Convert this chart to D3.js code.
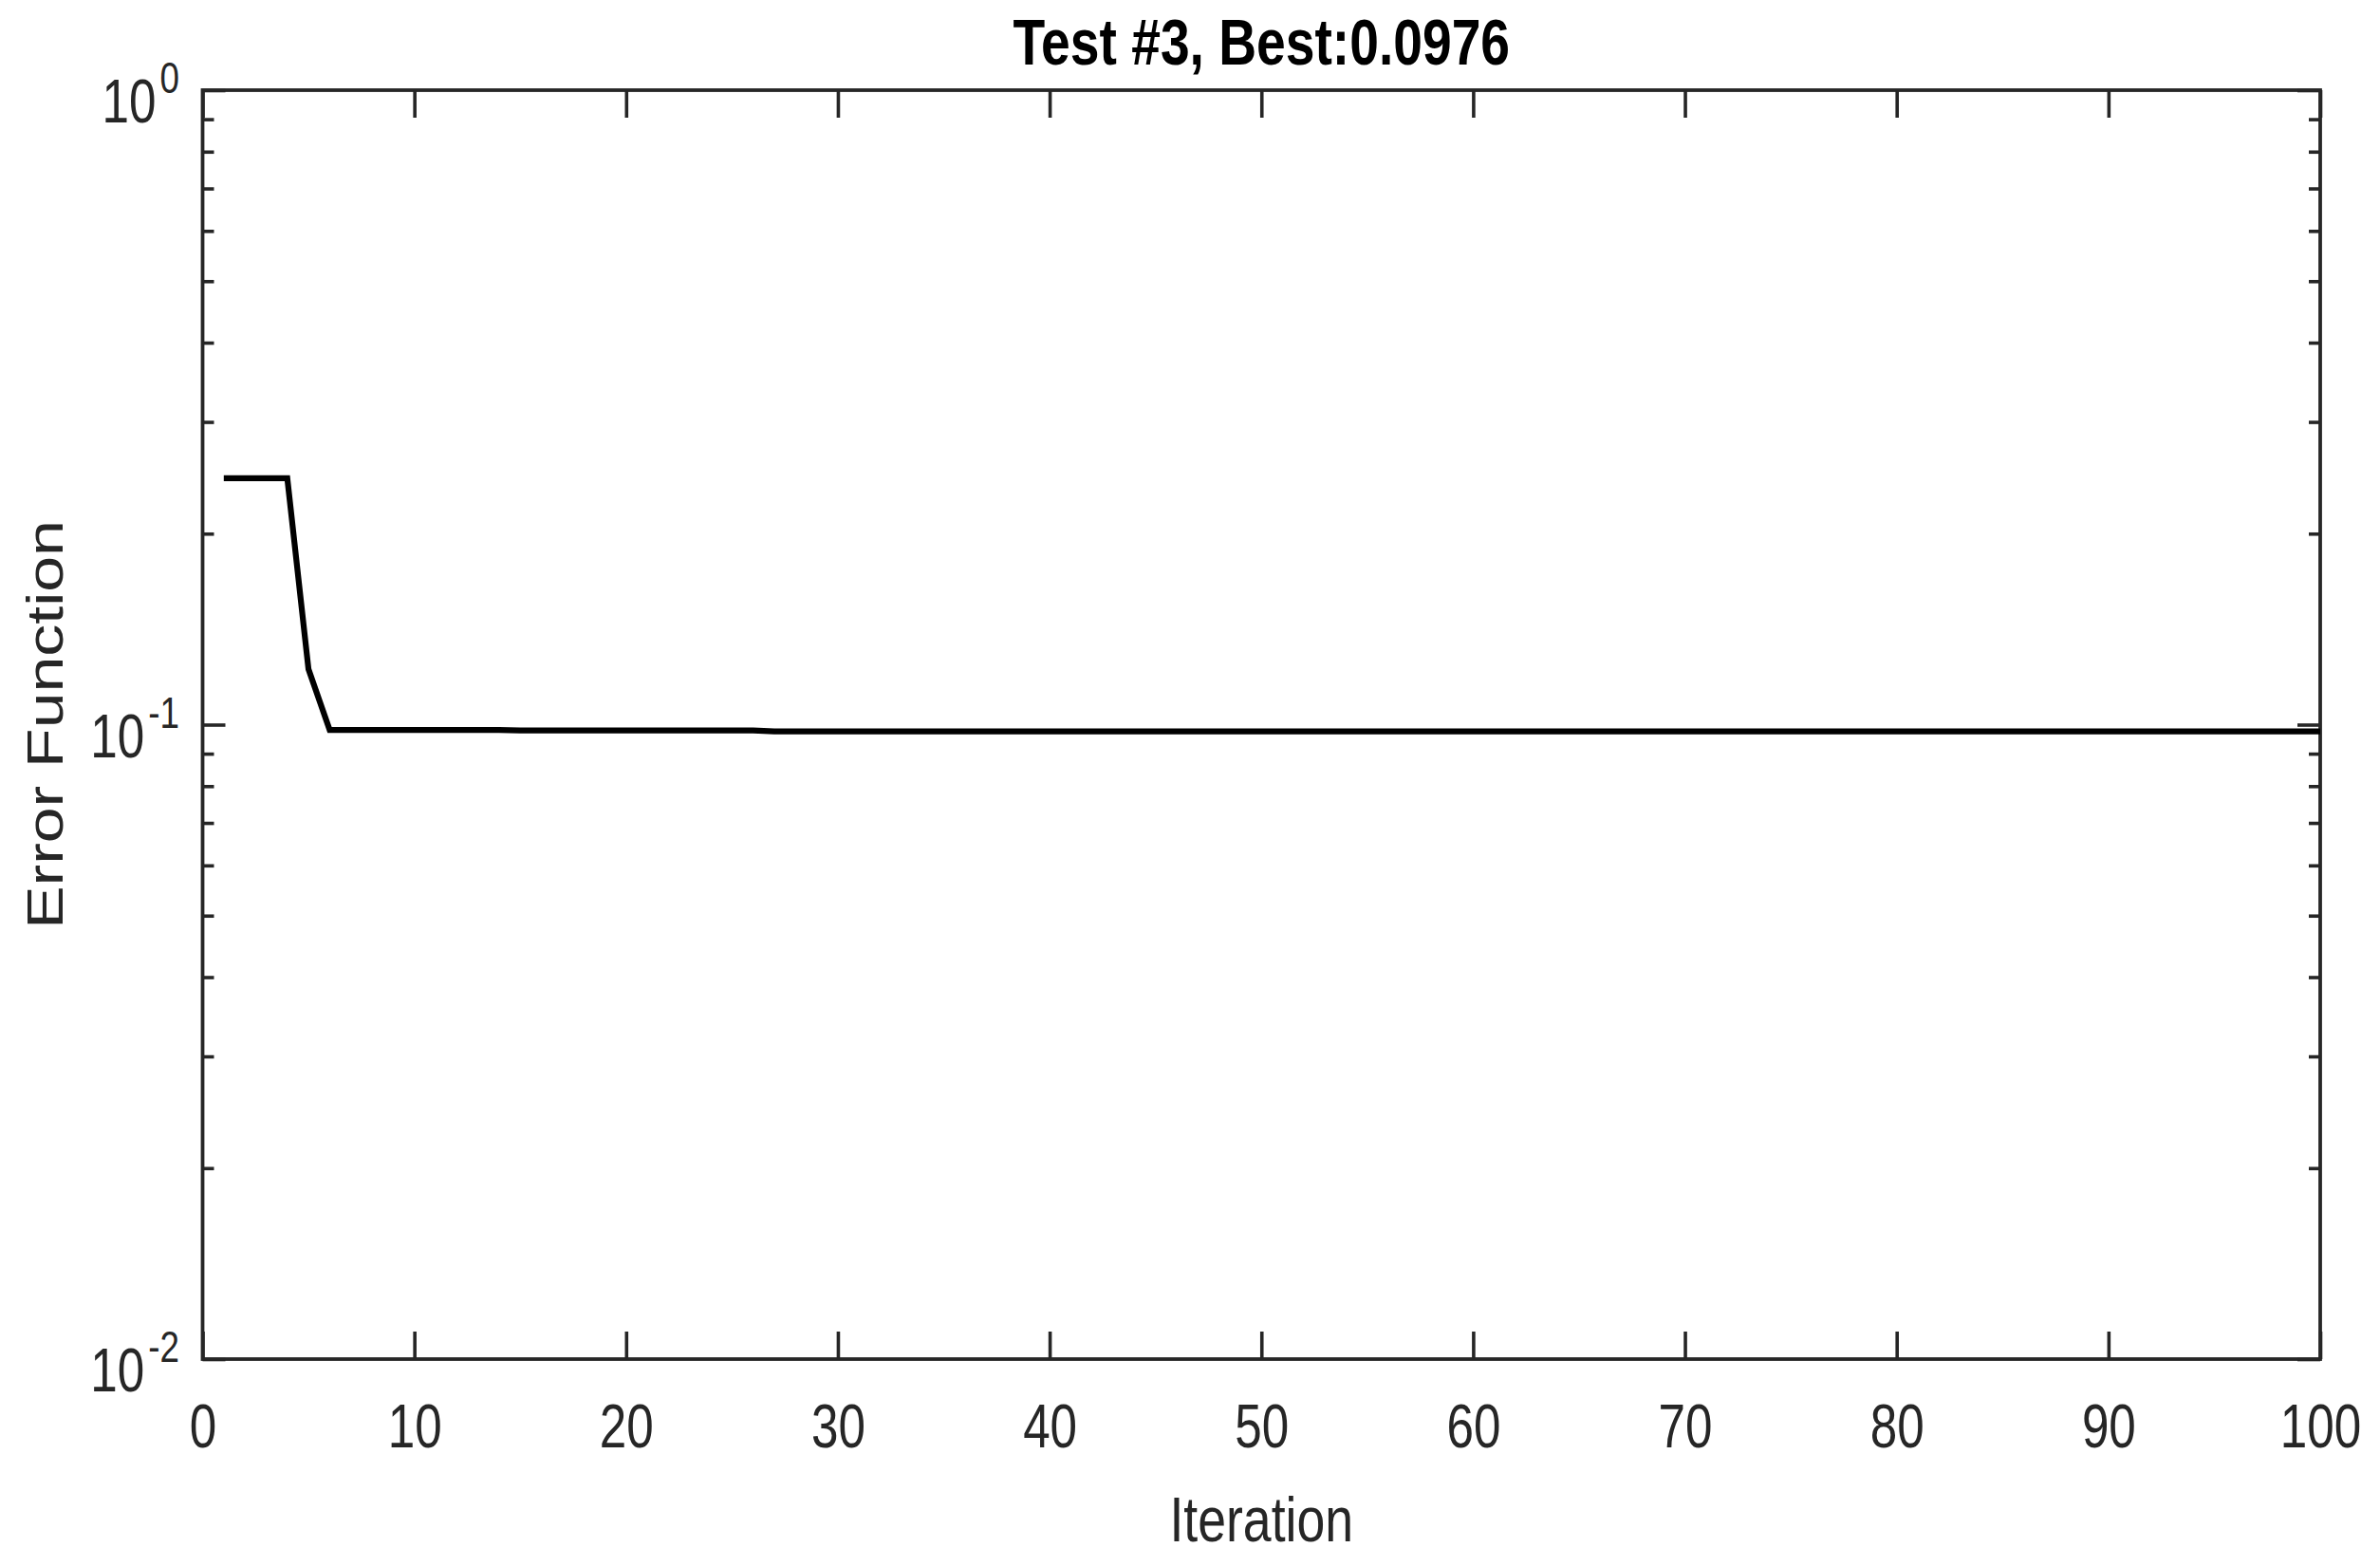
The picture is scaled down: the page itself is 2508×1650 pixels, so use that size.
<!DOCTYPE html>
<html>
<head>
<meta charset="utf-8">
<script src="https://cdn.jsdelivr.net/npm/d3@7"></script>
<style>
  html, body { margin: 0; padding: 0; background: #fff; }
  svg { display: block; }
</style>
</head>
<body>
<svg id="chart" width="2508" height="1650"></svg>
<script>
// ---------------- data ----------------
const titleText = "Test #3, Best:0.0976";
const xLabel = "Iteration";
const yLabel = "Error Function";
const xTicks = [0, 10, 20, 30, 40, 50, 60, 70, 80, 90, 100];
const yMajorTicks = [0.01, 0.1, 1];
const yMinorTicks = [0.02, 0.03, 0.04, 0.05, 0.06, 0.07, 0.08, 0.09,
                     0.2, 0.3, 0.4, 0.5, 0.6, 0.7, 0.8, 0.9];
const errorValues = [
  0.2445, 0.2445, 0.2445, 0.2445, 0.1223, 0.0981, 0.0981, 0.0981, 0.0981, 0.0981,
  0.0981, 0.0981, 0.0981, 0.0981, 0.0979, 0.0979, 0.0979, 0.0979, 0.0979, 0.0979,
  0.0979, 0.0979, 0.0979, 0.0979, 0.0979, 0.0979, 0.0976, 0.0976, 0.0976, 0.0976,
  0.0976, 0.0976, 0.0976, 0.0976, 0.0976, 0.0976, 0.0976, 0.0976, 0.0976, 0.0976,
  0.0976, 0.0976, 0.0976, 0.0976, 0.0976, 0.0976, 0.0976, 0.0976, 0.0976, 0.0976,
  0.0976, 0.0976, 0.0976, 0.0976, 0.0976, 0.0976, 0.0976, 0.0976, 0.0976, 0.0976,
  0.0976, 0.0976, 0.0976, 0.0976, 0.0976, 0.0976, 0.0976, 0.0976, 0.0976, 0.0976,
  0.0976, 0.0976, 0.0976, 0.0976, 0.0976, 0.0976, 0.0976, 0.0976, 0.0976, 0.0976,
  0.0976, 0.0976, 0.0976, 0.0976, 0.0976, 0.0976, 0.0976, 0.0976, 0.0976, 0.0976,
  0.0976, 0.0976, 0.0976, 0.0976, 0.0976, 0.0976, 0.0976, 0.0976, 0.0976, 0.0976
];
const iterations = errorValues.map((_, i) => i + 1);

// ---------------- layout ----------------
const L = 213.5, R = 2445, T = 95, B = 1432;
const SX = 0.8;               // horizontal glyph squash of the reference
const AX = "#262626";
const FONT = "'Liberation Sans', Arial, Helvetica, sans-serif";

const svg = d3.select("#chart");
const x = d3.scaleLinear().domain([0, 100]).range([L, R]);
const y = d3.scaleLog().domain([0.01, 1]).range([B, T]);

function styleAxis(g) {
  g.select(".domain").remove();
  g.selectAll(".tick line").attr("stroke", AX).attr("stroke-width", 3.6);
}

// bottom axis with labels
const gb = svg.append("g").attr("transform", `translate(0,${B})`)
  .call(d3.axisBottom(x).tickValues(xTicks).tickSize(-29).tickPadding(48).tickFormat(d3.format("d")));
styleAxis(gb);
gb.attr("font-family", FONT).attr("font-size", 64);
gb.selectAll(".tick text").attr("fill", AX).attr("transform", `scale(${SX},1)`);

// top axis
const gt = svg.append("g").attr("transform", `translate(0,${T})`)
  .call(d3.axisTop(x).tickValues(xTicks).tickSize(-29).tickFormat(""));
styleAxis(gt);

// left / right y axes (major + minor)
[[d3.axisLeft, L], [d3.axisRight, R]].forEach(([axisFn, pos]) => {
  const gM = svg.append("g").attr("transform", `translate(${pos},0)`)
    .call(axisFn(y).tickValues(yMajorTicks).tickSize(-24).tickFormat(""));
  styleAxis(gM);
  const gm = svg.append("g").attr("transform", `translate(${pos},0)`)
    .call(axisFn(y).tickValues(yMinorTicks).tickSize(-12).tickFormat(""));
  styleAxis(gm);
});

// y tick labels as 10^n
const yl = svg.append("g").attr("font-family", FONT).attr("fill", AX);
yMajorTicks.forEach(v => {
  const t = yl.append("text")
    .attr("transform", `translate(189,${y(v) + 34}) scale(${SX},1)`)
    .attr("text-anchor", "end");
  t.append("tspan").attr("font-size", 64).text("10");
  t.append("tspan").attr("font-size", 46).attr("dx", 5).attr("dy", -31)
    .text(String(Math.round(Math.log10(v))));
});

// frame
svg.append("rect")
  .attr("x", L).attr("y", T).attr("width", R - L).attr("height", B - T)
  .attr("fill", "none").attr("stroke", AX).attr("stroke-width", 3.8);

// data line
const line = d3.line().x((d, i) => x(iterations[i])).y(d => y(d));
svg.append("path")
  .datum(errorValues)
  .attr("d", line)
  .attr("fill", "none")
  .attr("stroke", "#000")
  .attr("stroke-width", 6.2)
  .attr("stroke-linejoin", "miter");

// title
svg.append("text")
  .attr("transform", `translate(${(L + R) / 2},68) scale(${SX},1)`)
  .attr("text-anchor", "middle")
  .attr("font-family", FONT).attr("font-weight", "bold").attr("font-size", 69)
  .attr("fill", "#000")
  .text(titleText);

// x label
svg.append("text")
  .attr("transform", `translate(${(L + R) / 2},1624) scale(${SX},1)`)
  .attr("text-anchor", "middle")
  .attr("font-family", FONT).attr("font-size", 67)
  .attr("fill", AX)
  .text(xLabel);

// y label
svg.append("text")
  .attr("transform", `translate(66,${(T + B) / 2}) scale(${SX},1) rotate(-90)`)
  .attr("text-anchor", "middle")
  .attr("font-family", FONT).attr("font-size", 68)
  .attr("fill", AX)
  .text(yLabel);
</script>
</body>
</html>
